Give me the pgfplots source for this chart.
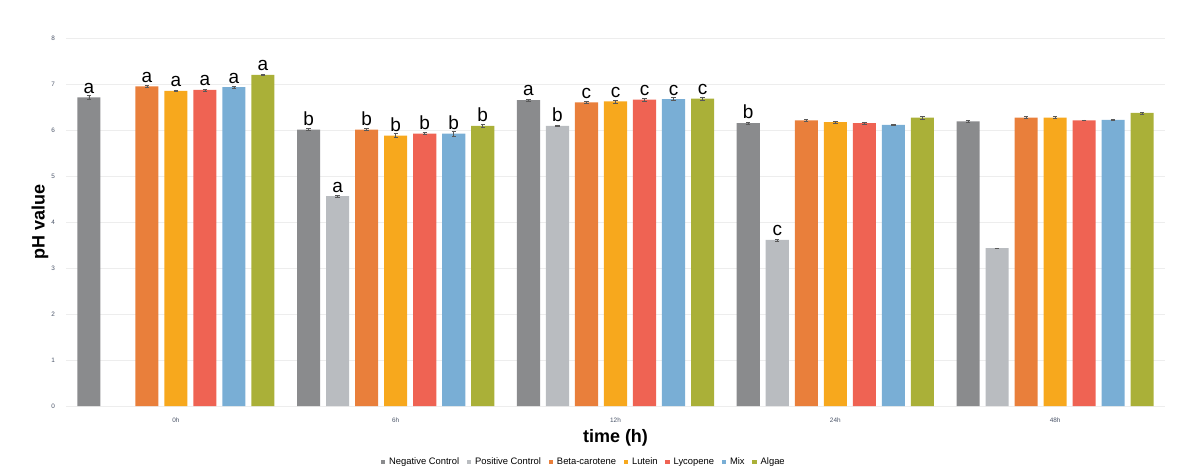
\documentclass[border=0pt]{standalone}
\usepackage{pgfplots}
\usepackage{pgfplotstable}
\pgfplotsset{compat=1.18}
\usepackage{fontspec}
\setmainfont{Liberation Sans}

\definecolor{cneg}{HTML}{8A8B8D}
\definecolor{cpos}{HTML}{B9BCC0}
\definecolor{cbeta}{HTML}{E97F3B}
\definecolor{clut}{HTML}{F7A81D}
\definecolor{clyc}{HTML}{EF6353}
\definecolor{cmix}{HTML}{79AED5}
\definecolor{calg}{HTML}{AAB038}
\definecolor{tickcol}{HTML}{4A5468}

% columns: time index, mean pH, error, significance letter
\pgfplotstableread{
x y e lab
0 6.71 0.05 a
1 6.01 0.02 b
2 6.65 0.02 a
3 6.15 0.02 b
4 6.19 0.02 {}
}\negctrl
\pgfplotstableread{
x y e lab
1 4.56 0.02 a
2 6.09 0.02 b
3 3.61 0.02 c
4 3.43 0.00 {}
}\posctrl
\pgfplotstableread{
x y e lab
0 6.95 0.02 a
1 6.01 0.02 b
2 6.60 0.02 c
3 6.21 0.02 {}
4 6.27 0.02 {}
}\betacar
\pgfplotstableread{
x y e lab
0 6.85 0.02 a
1 5.88 0.04 b
2 6.62 0.03 c
3 6.17 0.02 {}
4 6.27 0.02 {}
}\lutein
\pgfplotstableread{
x y e lab
0 6.87 0.02 a
1 5.92 0.02 b
2 6.66 0.03 c
3 6.15 0.02 {}
4 6.21 0.01 {}
}\lycopene
\pgfplotstableread{
x y e lab
0 6.93 0.02 a
1 5.92 0.05 b
2 6.67 0.03 c
3 6.11 0.01 {}
4 6.22 0.02 {}
}\mixture
\pgfplotstableread{
x y e lab
0 7.20 0.02 a
1 6.09 0.04 b
2 6.68 0.04 c
3 6.27 0.03 {}
4 6.37 0.02 {}
}\algae

\begin{document}
\begin{tikzpicture}
\path[use as bounding box] (-33pt,-33pt) rectangle (555.5pt,203pt);
\begin{axis}[
  at={(0pt,0pt)}, anchor=south west,
  scale only axis,
  width=549.5pt, height=184pt,
  xmin=-0.5, xmax=4.5,
  ymin=0, ymax=8,
  ytick={0,1,...,8},
  xtick={0,1,2,3,4},
  xticklabels={0h,6h,12h,24h,48h},
  axis line style={draw=none},
  major tick length=0pt,
  ymajorgrids,
  grid style={line width=0.5pt, color=black!7},
  /pgf/number format/assume math mode=true,
  ticklabel style={font=\fontsize{3.2pt}{4pt}\selectfont, text=tickcol},
  yticklabel style={xshift=-2pt},
  xticklabel style={yshift=-2.5pt},
  ylabel={\bfseries pH value},
  ylabel style={at={(axis description cs:-0.0237,0.5)}, anchor=center,
    font=\fontsize{9pt}{10pt}\selectfont},
  xlabel={\bfseries time (h)},
  xlabel style={at={(axis description cs:0.5,-0.087)}, anchor=center,
    font=\fontsize{9pt}{10pt}\selectfont},
  ybar,
  bar width=0.105,
  point meta=explicit symbolic,
  nodes near coords,
  every node near coord/.append style={font=\fontsize{9.5pt}{10pt}\selectfont,
    text=black, anchor=south, inner sep=0.8pt, yshift=1pt},
  error bars/y dir=both,
  error bars/y explicit,
  error bars/error bar style={line width=0.35pt, color=black!65},
  error bars/error mark options={rotate=90, mark size=1.1pt, line width=0.35pt, color=black!65},
  legend style={at={(axis description cs:0.472,-0.155)}, anchor=center,
    draw=none, fill=none, legend columns=-1,
    font=\fontsize{4.7pt}{5.5pt}\selectfont,
    /tikz/every even column/.append style={column sep=1.8pt},
    inner sep=0pt},
  legend cell align=left,
  legend image code/.code={\fill[#1] (0pt,-0.5pt) rectangle (2.2pt,1.7pt);},
]
\addplot[fill=cneg, draw=none, bar shift=-0.396]
  table[x=x, y=y, y error=e, meta=lab]{\negctrl};
\addplot[fill=cpos, draw=none, bar shift=-0.264]
  table[x=x, y=y, y error=e, meta=lab]{\posctrl};
\addplot[fill=cbeta, draw=none, bar shift=-0.132]
  table[x=x, y=y, y error=e, meta=lab]{\betacar};
\addplot[fill=clut, draw=none, bar shift=0]
  table[x=x, y=y, y error=e, meta=lab]{\lutein};
\addplot[fill=clyc, draw=none, bar shift=0.132]
  table[x=x, y=y, y error=e, meta=lab]{\lycopene};
\addplot[fill=cmix, draw=none, bar shift=0.264]
  table[x=x, y=y, y error=e, meta=lab]{\mixture};
\addplot[fill=calg, draw=none, bar shift=0.396]
  table[x=x, y=y, y error=e, meta=lab]{\algae};
\legend{Negative Control, Positive Control, Beta-carotene, Lutein, Lycopene, Mix, Algae}
\end{axis}
\end{tikzpicture}
\end{document}
